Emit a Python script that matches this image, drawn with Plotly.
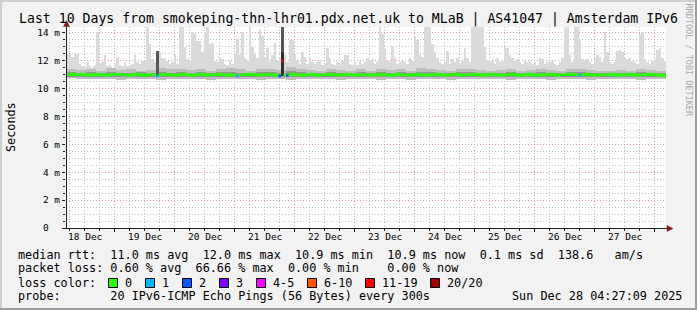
import pandas as pd
import plotly.graph_objects as go

# ---------------- data ----------------
START = "2025-12-18 04:27:09"
END = "2025-12-28 04:27:09"

day_labels = ["18 Dec", "19 Dec", "20 Dec", "21 Dec", "22 Dec",
              "23 Dec", "24 Dec", "25 Dec", "26 Dec", "27 Dec"]
day_dates = ["2025-12-18", "2025-12-19", "2025-12-20", "2025-12-21", "2025-12-22",
             "2025-12-23", "2025-12-24", "2025-12-25", "2025-12-26", "2025-12-27"]

y_ticks = [0, 2, 4, 6, 8, 10, 12, 14]
y_tick_labels = ["0  ", "2 m", "4 m", "6 m", "8 m", "10 m", "12 m", "14 m"]

# hourly median rtt (ms)
median_ms = [
    11.0, 11.0, 11.05, 11.0, 11.0, 11.0, 11.05, 11.0, 11.0, 10.95, 11.0, 11.0, 11.05, 11.0, 11.0, 11.0, 10.95, 11.0, 11.0, 11.05, 11.05, 11.0, 11.0, 11.0,
    11.0, 10.95, 11.0, 11.0, 11.05, 11.0, 11.0, 10.95, 11.0, 11.0, 11.0, 11.0, 10.9, 11.0, 11.0, 11.05, 11.0, 11.0, 11.0, 10.95, 11.0, 11.0, 11.0, 11.05,
    11.0, 11.0, 10.95, 11.0, 11.0, 11.0, 11.05, 11.0, 10.95, 11.0, 11.0, 11.0, 11.0, 11.05, 11.0, 11.0, 10.95, 11.0, 11.0, 11.0, 10.9, 11.0, 11.0, 11.0,
    11.0, 11.05, 11.0, 11.0, 10.95, 11.0, 11.0, 11.0, 11.05, 11.0, 11.0, 10.95, 11.0, 10.9, 12.0, 11.0, 10.95, 11.0, 11.05, 11.0, 11.0, 11.0, 10.95, 11.0,
    11.0, 11.0, 11.05, 11.0, 10.95, 11.0, 11.0, 11.0, 11.0, 11.05, 11.0, 11.0, 10.95, 11.0, 11.0, 11.0, 11.05, 11.0, 11.0, 10.95, 11.0, 11.0, 11.0, 11.0,
    11.0, 10.95, 11.0, 11.0, 11.0, 11.05, 11.0, 11.0, 11.0, 10.95, 11.0, 11.0, 11.05, 11.0, 11.0, 11.0, 11.0, 10.95, 11.0, 11.0, 11.05, 11.0, 11.0, 11.0,
    10.95, 11.0, 11.0, 11.0, 11.05, 11.0, 11.0, 10.95, 11.0, 11.0, 11.0, 11.0, 11.05, 11.0, 10.95, 11.0, 11.0, 11.0, 11.0, 11.05, 11.0, 11.0, 10.95, 11.0,
    11.0, 11.0, 11.05, 11.0, 11.0, 10.95, 11.0, 11.0, 11.0, 11.0, 11.05, 11.0, 11.0, 10.95, 11.0, 11.0, 11.0, 11.05, 11.0, 11.0, 10.95, 11.0, 11.0, 11.0,
    11.0, 11.05, 11.0, 11.0, 10.95, 11.0, 11.0, 11.0, 11.0, 11.05, 11.0, 11.0, 11.0, 10.95, 11.0, 11.0, 11.05, 11.0, 11.0, 11.0, 10.95, 11.0, 11.0, 11.0,
    11.0, 11.0, 11.05, 11.0, 10.95, 11.0, 11.0, 11.0, 11.0, 11.05, 11.0, 11.0, 10.95, 11.0, 11.0, 11.0, 11.0, 11.05, 11.0, 11.0, 10.95, 11.0, 11.0, 10.9,
]

# hourly highest ping (top of the light smoke), ms
max_ms = [
    12.5, 12.5, 12.3, 12.5, 12.5, 11.8, 11.6, 11.5, 11.9, 11.6, 11.5, 11.7, 14.1, 11.8, 11.9, 12.4, 11.6, 11.7, 11.5, 11.8, 12.3, 11.7, 11.6, 11.9,
    11.6, 11.7, 11.8, 12.4, 11.9, 11.8, 12.0, 12.0, 14.4, 13.2, 12.1, 11.9, 12.7, 12.6, 12.2, 12.2, 12.0, 11.8, 11.9, 12.4, 11.8, 14.4, 14.4, 13.0,
    12.1, 12.0, 14.1, 13.9, 13.4, 13.4, 12.6, 14.1, 14.4, 13.2, 13.3, 12.0, 11.9, 12.2, 12.1, 11.8, 11.7, 12.0, 11.8, 12.5, 13.6, 12.4, 14.1, 12.2,
    12.0, 14.4, 13.0, 12.5, 12.2, 14.3, 13.8, 12.2, 12.9, 11.9, 12.4, 13.3, 12.0, 12.2, 14.4, 12.4, 11.9, 13.5, 13.5, 12.4, 12.0, 11.8, 12.6, 12.3,
    11.8, 12.2, 11.9, 11.8, 11.9, 12.0, 11.7, 11.8, 12.9, 12.2, 11.8, 11.7, 11.9, 11.8, 12.0, 12.4, 12.4, 11.8, 11.7, 11.9, 11.7, 12.0, 11.8, 11.9,
    12.2, 12.0, 12.1, 11.8, 11.9, 14.4, 13.9, 12.9, 12.0, 11.9, 13.1, 12.2, 11.8, 11.9, 12.0, 11.9, 11.8, 12.2, 12.0, 13.7, 13.5, 12.4, 12.3, 14.4,
    14.4, 14.4, 13.2, 12.6, 12.2, 11.9, 11.8, 11.9, 12.7, 11.8, 12.1, 11.9, 12.2, 11.8, 12.0, 12.9, 12.2, 11.9, 14.4, 14.4, 14.4, 14.4, 14.4, 13.0,
    12.0, 11.9, 12.0, 11.8, 12.2, 11.9, 12.0, 13.0, 12.9, 12.4, 12.2, 12.0, 12.1, 11.9, 11.8, 12.0, 11.9, 12.0, 11.8, 11.9, 11.7, 12.2, 12.1, 11.8,
    11.9, 11.9, 12.0, 11.8, 11.7, 11.9, 12.2, 14.3, 14.4, 12.4, 11.9, 14.4, 14.4, 13.6, 12.1, 12.0, 12.1, 11.9, 11.8, 12.2, 12.4, 12.3, 11.9, 14.1,
    12.6, 11.9, 11.8, 11.9, 12.7, 12.8, 12.6, 12.2, 12.1, 12.2, 12.0, 11.9, 11.8, 13.9, 14.1, 12.1, 11.9, 11.8, 12.0, 12.1, 12.8, 12.9, 12.2, 12.0,
]

# 4-hourly smoke bands (ms)
band_hi = [
    11.45, 11.35, 11.40, 11.30, 11.50, 11.35,
    11.40, 11.30, 11.35, 11.50, 11.40, 11.45,
    11.35, 11.40, 11.30, 11.45, 11.50, 11.40,
    11.30, 11.45, 11.40, 11.35, 11.55, 11.40,
    11.35, 11.30, 11.40, 11.35, 11.30, 11.40,
    11.30, 11.40, 11.35, 11.45, 11.30, 11.50,
    11.40, 11.35, 11.30, 11.40, 11.45, 11.35,
    11.30, 11.35, 11.40, 11.30, 11.35, 11.40,
    11.35, 11.30, 11.40, 11.45, 11.35, 11.30,
    11.30, 11.35, 11.30, 11.40, 11.35, 11.30,
]
band_lo = [
    10.75, 10.70, 10.72, 10.68, 10.70, 10.66,
    10.70, 10.72, 10.68, 10.65, 10.70, 10.72,
    10.68, 10.70, 10.66, 10.72, 10.70, 10.68,
    10.70, 10.65, 10.68, 10.70, 10.66, 10.70,
    10.72, 10.68, 10.70, 10.66, 10.70, 10.68,
    10.70, 10.66, 10.72, 10.68, 10.65, 10.70,
    10.68, 10.70, 10.66, 10.70, 10.72, 10.68,
    10.70, 10.68, 10.65, 10.70, 10.68, 10.72,
    10.66, 10.70, 10.68, 10.72, 10.66, 10.70,
    10.70, 10.68, 10.72, 10.66, 10.70, 10.68,
]
core_hi = [
    11.18, 11.15, 11.20, 11.15, 11.22, 11.16,
    11.15, 11.18, 11.14, 11.20, 11.16, 11.18,
    11.15, 11.20, 11.16, 11.18, 11.22, 11.15,
    11.14, 11.20, 11.18, 11.15, 11.25, 11.18,
    11.15, 11.14, 11.18, 11.16, 11.15, 11.18,
    11.14, 11.18, 11.15, 11.20, 11.14, 11.20,
    11.18, 11.15, 11.14, 11.18, 11.20, 11.15,
    11.14, 11.15, 11.18, 11.14, 11.16, 11.18,
    11.15, 11.14, 11.18, 11.20, 11.15, 11.14,
    11.14, 11.16, 11.14, 11.18, 11.15, 11.14,
]
core_lo = [
    10.85, 10.84, 10.86, 10.83, 10.85, 10.84,
    10.85, 10.86, 10.84, 10.83, 10.85, 10.86,
    10.84, 10.85, 10.83, 10.86, 10.85, 10.84,
    10.85, 10.83, 10.86, 10.84, 10.82, 10.85,
    10.86, 10.84, 10.85, 10.83, 10.86, 10.84,
    10.85, 10.86, 10.84, 10.85, 10.83, 10.84,
    10.85, 10.86, 10.84, 10.83, 10.85, 10.84,
    10.86, 10.85, 10.84, 10.83, 10.85, 10.86,
    10.84, 10.85, 10.83, 10.84, 10.86, 10.85,
    10.84, 10.83, 10.85, 10.84, 10.86, 10.84,
]

# hours with packet loss (lost pings out of 20)
loss_hours = [36, 68, 85, 86, 88, 205]
loss_pings = [1, 1, 2, 15, 2, 1]

# hours with heavy-loss (dark) smoke
heavy_hours = [36, 86, 86]
heavy_lo = [10.9, 10.9, 10.9]
heavy_hi = [12.7, 14.4, 12.6]

loss_bins = [0, 1, 2, 3, 5, 10, 19, 20]
loss_labels = ["0", "1", "2", "3", "4-5", "6-10", "11-19", "20/20"]

title_text = "Last 10 Days from smokeping-thn-lhr01.pdx.net.uk to MLaB | AS41047 | Amsterdam IPv6"
legend_lines = [
    "median rtt:  11.0 ms avg  12.0 ms max  10.9 ms min  10.9 ms now  0.1 ms sd  138.6   am/s",
    "packet loss: 0.60 % avg  66.66 % max  0.00 % min    0.00 % now",
    "loss color:",
    "probe:       20 IPv6-ICMP Echo Pings (56 Bytes) every 300s",
]
stamp_text = "Sun Dec 28 04:27:09 2025"
watermark = "RRDTOOL / TOBI OETIKER"
y_title = "Seconds"

# ---------------- styles ----------------
loss_colors = ["#26ff00", "#00b8ff", "#0059ff", "#7e00ff", "#ff00ff", "#ff5500", "#ff0000", "#a10000"]
heavy_colors = ["#565656", "#565656", "#2e2e2e"]
MONO = "DejaVu Sans Mono"
W, H = 697, 310
L, R, T, B = 66, 666, 27, 228
Y_TOP = (B - T) / 13.93


def px(x):
    return (x - L) / (R - L)


def py(y):
    return (B - y) / (B - T)


def nb(s):
    return s.replace(" ", "\u00a0")


def loss_color(n):
    for b, c in zip(loss_bins, loss_colors):
        if n <= b:
            return c
    return loss_colors[-1]


HOUR = pd.Timedelta(hours=1)
t0 = pd.Timestamp(START)
hour_start = [t0 + i * HOUR for i in range(len(median_ms))]
hour_mid = [t + HOUR / 2 for t in hour_start]
n4 = min(len(band_hi), len(band_lo), len(core_hi), len(core_lo))
blk_mid = [t0 + (4 * j + 2) * HOUR for j in range(n4)]

fig = go.Figure()

# light smoke: median .. max ping
n1 = min(len(median_ms), len(max_ms))
fig.add_trace(go.Bar(
    x=hour_mid[:n1], base=median_ms[:n1],
    y=[max_ms[i] - median_ms[i] for i in range(n1)],
    width=3600 * 1000, marker=dict(color="#dadada", line=dict(width=0)),
    hoverinfo="skip", showlegend=False))
# medium smoke band
fig.add_trace(go.Bar(
    x=blk_mid, base=band_lo[:n4], y=[band_hi[j] - band_lo[j] for j in range(n4)],
    width=4 * 3600 * 1000, marker=dict(color="#bdbdbd", line=dict(width=0)),
    hoverinfo="skip", showlegend=False))
# dark core band
fig.add_trace(go.Bar(
    x=blk_mid, base=core_lo[:n4], y=[core_hi[j] - core_lo[j] for j in range(n4)],
    width=4 * 3600 * 1000, marker=dict(color="#969696", line=dict(width=0)),
    hoverinfo="skip", showlegend=False))
# heavy loss smoke
fig.add_trace(go.Bar(
    x=[hour_mid[h] for h in heavy_hours], base=heavy_lo,
    y=[hi - lo for hi, lo in zip(heavy_hi, heavy_lo)],
    width=3600 * 1000, marker=dict(color=heavy_colors, line=dict(width=0)),
    hoverinfo="skip", showlegend=False))

# median line (green for loss 0), broken where loss colour changes
loss_set = set(loss_hours)
gx, gy = [], []
run_open = False
for i, v in enumerate(median_ms):
    if i in loss_set:
        if run_open:
            gx += [hour_start[i], None]
            gy += [median_ms[i - 1], None]
            run_open = False
        continue
    gx.append(hour_start[i])
    gy.append(v)
    run_open = True
if run_open:
    gx.append(t0 + len(median_ms) * HOUR)
    gy.append(median_ms[-1])
fig.add_trace(go.Scatter(
    x=gx, y=gy, mode="lines", connectgaps=False,
    line=dict(color=loss_colors[0], width=2.6, shape="hv"),
    hoverinfo="skip", showlegend=False))
# median segments coloured by loss
for h, n in zip(loss_hours, loss_pings):
    fig.add_trace(go.Scatter(
        x=[hour_start[h], hour_start[h] + HOUR],
        y=[median_ms[h], median_ms[h]],
        mode="lines", line=dict(color=loss_color(n), width=2.6),
        hoverinfo="skip", showlegend=False))

midnights = [pd.Timestamp(d) + pd.Timedelta(days=1) for d in day_dates]
noons = [pd.Timestamp(d) + pd.Timedelta(hours=12) for d in day_dates]

MINOR_GRID = "#c4c4c4"
MAJOR_GRID = "#ee9a9a"
fig.update_layout(
    width=W, height=H, autosize=False,
    margin=dict(l=L, r=W - R, t=T, b=H - B, pad=0),
    paper_bgcolor="#f2f2f2", plot_bgcolor="#ffffff",
    barmode="overlay", bargap=0, showlegend=False,
    font=dict(family=MONO, color="#000000"),
    xaxis=dict(
        type="date", range=[START, END], tickmode="array", tickvals=midnights,
        showticklabels=False, showgrid=True, gridcolor=MAJOR_GRID, griddash="1px,2px",
        gridwidth=1, ticks="outside", ticklen=3, tickcolor="#1f1f1f",
        showline=False, zeroline=False,
        minor=dict(dtick=6 * 3600 * 1000, tick0="2025-12-18", showgrid=True,
                   gridcolor=MINOR_GRID, griddash="1px,2px", ticks="outside",
                   ticklen=2, tickcolor="#1f1f1f"),
    ),
    yaxis=dict(
        range=[0, Y_TOP], tickmode="array", tickvals=y_ticks,
        ticktext=[nb(t) for t in y_tick_labels],
        tickfont=dict(family=MONO, size=9.5, color="#000000"),
        showgrid=True, gridcolor=MAJOR_GRID, griddash="1px,2px", gridwidth=1,
        ticks="outside", ticklen=3, tickcolor="#1f1f1f", showline=False, zeroline=False,
        minor=dict(dtick=0.5, tick0=0, showgrid=True, gridcolor=MINOR_GRID,
                   griddash="1px,2px", ticks="outside", ticklen=2, tickcolor="#1f1f1f"),
    ),
)

shapes = []
# 3D frame
shapes.append(dict(type="rect", xref="paper", yref="paper", x0=px(0), x1=px(W), y0=py(0), y1=py(2),
                   fillcolor="#cfcfcf", line=dict(width=0), layer="above"))
shapes.append(dict(type="rect", xref="paper", yref="paper", x0=px(0), x1=px(2), y0=py(0), y1=py(H),
                   fillcolor="#cfcfcf", line=dict(width=0), layer="above"))
shapes.append(dict(type="rect", xref="paper", yref="paper", x0=px(0), x1=px(W), y0=py(H - 2), y1=py(H),
                   fillcolor="#9e9e9e", line=dict(width=0), layer="above"))
shapes.append(dict(type="rect", xref="paper", yref="paper", x0=px(W - 2), x1=px(W), y0=py(0), y1=py(H),
                   fillcolor="#9e9e9e", line=dict(width=0), layer="above"))
# axis lines
shapes.append(dict(type="line", xref="paper", yref="paper", x0=px(66.5), x1=px(66.5), y0=py(228.5), y1=py(23),
                   line=dict(color="#1f1f1f", width=1), layer="above"))
shapes.append(dict(type="line", xref="paper", yref="paper", x0=px(62), x1=px(668), y0=py(228.5), y1=py(228.5),
                   line=dict(color="#1f1f1f", width=1), layer="above"))
# arrows
shapes.append(dict(type="path", xref="paper", yref="paper",
                   path=f"M {px(63.5)},{py(26.5)} L {px(69.5)},{py(26.5)} L {px(66.5)},{py(20.5)} Z",
                   fillcolor="#801f1f", line=dict(color="#801f1f", width=0.5), layer="above"))
shapes.append(dict(type="path", xref="paper", yref="paper",
                   path=f"M {px(667)},{py(225.5)} L {px(667)},{py(231.5)} L {px(673)},{py(228.5)} Z",
                   fillcolor="#801f1f", line=dict(color="#801f1f", width=0.5), layer="above"))

annotations = []
annotations.append(dict(xref="paper", yref="paper", x=px(348), y=py(19), text=nb(title_text),
                        showarrow=False, xanchor="center", yanchor="middle",
                        font=dict(family=MONO, size=13.2, color="#000000")))
annotations.append(dict(xref="paper", yref="paper", x=px(11), y=py(127), text=y_title, textangle=-90,
                        showarrow=False, xanchor="center", yanchor="middle",
                        font=dict(family=MONO, size=11.8, color="#000000")))
annotations.append(dict(xref="paper", yref="paper", x=px(688.5), y=py(60), text=nb(watermark), textangle=90,
                        showarrow=False, xanchor="center", yanchor="middle",
                        font=dict(family=MONO, size=8.5, color="#a8a8a8")))
for lab, t in zip(day_labels, noons):
    annotations.append(dict(xref="x", yref="paper", x=t, y=py(237), text=nb(lab),
                            showarrow=False, xanchor="center", yanchor="middle",
                            font=dict(family=MONO, size=9.5, color="#000000")))
line_y = [254.8, 268.3, 282.5, 296.0]
for txt, yy in zip(legend_lines, line_y):
    annotations.append(dict(xref="paper", yref="paper", x=px(16), y=py(yy), text=nb(txt),
                            showarrow=False, xanchor="left", yanchor="middle",
                            font=dict(family=MONO, size=11.8, color="#000000")))
annotations.append(dict(xref="paper", yref="paper", x=px(684), y=py(line_y[3]), text=nb(stamp_text),
                        showarrow=False, xanchor="right", yanchor="middle",
                        font=dict(family=MONO, size=11.8, color="#000000")))
sq = 108.0
for lab, col in zip(loss_labels, loss_colors):
    shapes.append(dict(type="rect", xref="paper", yref="paper", x0=px(sq + 0.5), x1=px(sq + 9.5),
                       y0=py(278.5), y1=py(287.5), fillcolor=col,
                       line=dict(color="#000000", width=1), layer="above"))
    annotations.append(dict(xref="paper", yref="paper", x=px(sq + 15), y=py(line_y[2]), text=nb(lab),
                            showarrow=False, xanchor="left", yanchor="middle",
                            font=dict(family=MONO, size=11.8, color="#000000")))
    sq += 30 + 7.0 * len(lab)

fig.update_layout(shapes=shapes, annotations=annotations)
fig.write_html("out.html")
